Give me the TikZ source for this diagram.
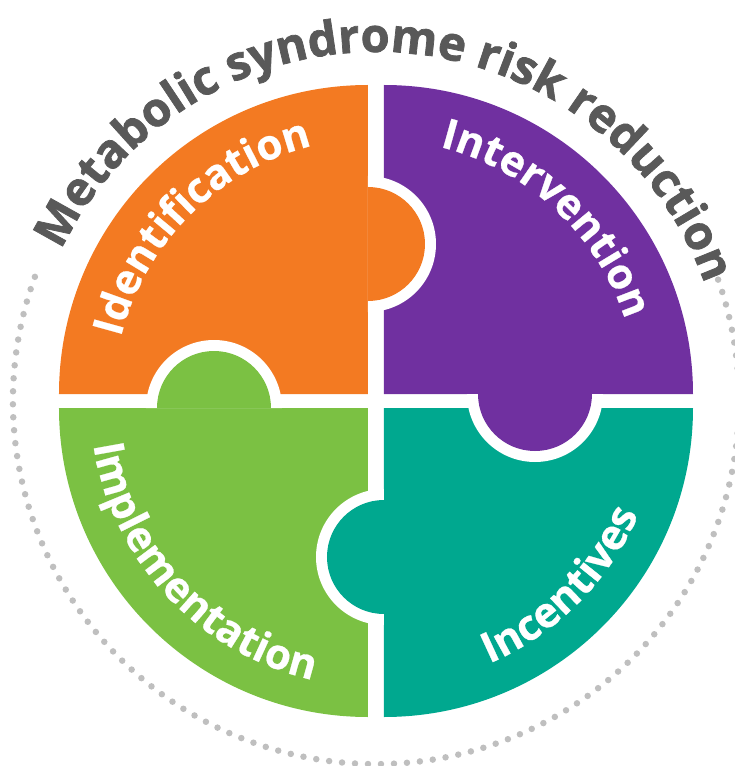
\documentclass[tikz,border=0pt]{standalone}
\usepackage{fontspec}
\setmainfont{Open Sans}
\newfontfamily\ringfam{Open Sans}[BoldFeatures={FakeBold=1.6}]
\newfontfamily\piecefam{Open Sans}[BoldFeatures={FakeBold=0.6}]
\usetikzlibrary{decorations.text}
\definecolor{idorange}{HTML}{F37A22}
\definecolor{intpurple}{HTML}{7030A0}
\definecolor{impgreen}{HTML}{7BC143}
\definecolor{incteal}{HTML}{00A88F}
\definecolor{titlegray}{HTML}{595959}
\definecolor{dotgray}{HTML}{BFBFBF}
\newcommand{\piecefont}{\piecefam\bfseries\fontsize{42}{42}\selectfont}
\newcommand{\ringfont}{\ringfam\bfseries\fontsize{47}{47}\selectfont}
\tikzset{arclabel/.style={decorate,decoration={text along path,text align=center,text color=white,text={|\piecefont|#1}}},
         ringtitle/.style={decorate,decoration={text along path,text align=center,text color=titlegray,text={|\ringfont|#1}}},
         dotring/.style={dotgray,line width=6.5pt,line cap=round,dash pattern=on 0pt off 13pt},
         quarter/.pic={
        code={
            \fill (0,0) -- (0,309) arc[start angle=90,end angle=180,radius=309pt] -- cycle;
  }},
         knob/.pic={
        code={
            \fill[white] (0,-68) arc[start angle=-90,end angle=90,radius=68pt] -- cycle;
            \fill (0,-57) arc[start angle=-90,end angle=90,radius=57pt] -- cycle;
  }}
}

\begin{document}
\begin{tikzpicture}[x=1pt,y=1pt]
\useasboundingbox (-376,-365) rectangle (358,401);

\draw[dotring] (160:363) arc[start angle=160,end angle=380,radius=363pt];

\path (-8,7) pic[idorange] {quarter};
\path (8,7) pic[intpurple,rotate=-90] {quarter};
\path (-8,-7) pic[impgreen,rotate=90] {quarter};
\path (8,-7) pic[incteal,rotate=180] {quarter};

\path (-8,157) pic[idorange] {knob};
\path (-162,-7) pic[impgreen,rotate=90] {knob};
\path (159,7) pic[intpurple,rotate=-90] {knob};
\path (8,-156) pic[incteal,rotate=180] {knob};

\path[arclabel=Identification] (175:263) arc[start angle=175,end angle=95,radius=263pt];
\path[arclabel=Intervention] (87:262) arc[start angle=87,end angle=7,radius=262pt];
\path[arclabel=Implementation] (183:286) arc[start angle=183,end angle=263,radius=286pt];
\path[arclabel=Incentives] (275:286) arc[start angle=275,end angle=355,radius=286pt];

\path[ringtitle=Metabolic syndrome risk reduction] (165:349) arc[start angle=165,end angle=9,radius=349pt];

\end{tikzpicture}
\end{document}
